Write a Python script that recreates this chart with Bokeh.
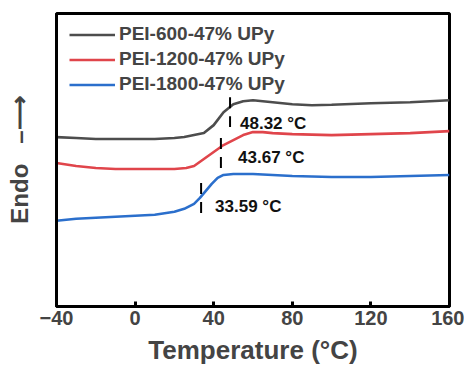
from bokeh.plotting import figure
from bokeh.models import Legend, LegendItem, ColumnDataSource
from bokeh.core.properties import value
from bokeh.embed import file_html
from bokeh.resources import INLINE

# Temperature (°C) sample points
t_600 = [-40, -30, -20, -10, 0, 10, 20, 25, 30, 35, 40, 45, 50, 55, 60, 65, 70, 80, 90, 100, 120, 140, 160]
hf_600 = [170, 169, 168, 168, 168, 168, 169, 170, 172, 174, 182, 195, 203, 206, 207, 206, 205, 203, 202, 202.5, 204, 205, 207]

t_1200 = [-40, -30, -20, -10, 0, 10, 20, 26, 30, 35, 40, 45, 50, 55, 60, 65, 70, 80, 100, 120, 140, 160]
hf_1200 = [144, 141, 139, 138, 138, 138, 138, 139, 141, 148, 155, 162, 167, 172, 175, 175, 174, 173, 172, 173, 174, 176]

t_1800 = [-40, -30, -20, -10, 0, 10, 20, 25, 30, 33, 36, 39, 42, 45, 50, 60, 80, 100, 120, 140, 160]
hf_1800 = [86, 88, 89, 90, 91, 92, 95, 98, 103, 109, 116, 123, 129, 132, 133, 133, 131, 130, 130, 131, 132]

names = ["PEI-600-47% UPy", "PEI-1200-47% UPy", "PEI-1800-47% UPy"]
colors = ["#4d4d4d", "#e0454b", "#2b6fcc"]

# Glass transition temperatures and marker extents
tg = [48.32, 43.67, 33.59]
tg_top = [210, 169, 124]
tg_bot = [180, 139, 92]
tg_text = ["48.32 °C", "43.67 °C", "33.59 °C"]
text_x = [53.4, 52.4, 40.7]
text_y = [184, 150, 100]

x_ticks = [-40, 0, 40, 80, 120, 160]

FONT = "Liberation Sans"

p = figure(width=464, height=367, x_range=(-40, 160), y_range=(0, 294),
           output_backend="svg", toolbar_location=None,
           min_border_left=56, min_border_right=15, min_border_top=13, min_border_bottom=60)
p.xgrid.visible = False
p.ygrid.visible = False
p.outline_line_color = "black"
p.outline_line_width = 3
p.background_fill_color = "white"
p.border_fill_color = "white"

r600 = p.line(t_600, hf_600, line_color=colors[0], line_width=2.6)
r1200 = p.line(t_1200, hf_1200, line_color=colors[1], line_width=2.6)
r1800 = p.line(t_1800, hf_1800, line_color=colors[2], line_width=2.6)

p.segment(x0=tg, y0=tg_top, x1=tg, y1=tg_bot, line_color="black", line_width=2, line_dash="11 8")

src = ColumnDataSource(dict(x=text_x, y=text_y, t=tg_text))
p.text(x="x", y="y", text="t", source=src, text_font=value(FONT), text_font_size="17px",
       text_font_style="bold", text_baseline="middle", text_align="left", text_color="#111111")

# axes
p.xaxis.ticker = x_ticks
p.xaxis.axis_label = "Temperature (°C)"
p.xaxis.axis_label_text_font = FONT
p.xaxis.axis_label_text_font_style = "bold"
p.xaxis.axis_label_text_font_size = "26px"
p.xaxis.axis_label_standoff = 7
p.xaxis.major_label_text_font = FONT
p.xaxis.major_label_text_font_style = "bold"
p.xaxis.major_label_text_font_size = "20px"
p.xaxis.major_label_standoff = 4
p.xaxis.major_tick_in = 5
p.xaxis.major_tick_out = 0
p.xaxis.major_tick_line_width = 3
p.xaxis.minor_tick_line_color = None
p.xaxis.axis_line_width = 3

p.yaxis.axis_label = "Endo\u00a0\u00a0\u00a0\u2013\u27f6"
p.yaxis.axis_label_text_font = FONT
p.yaxis.axis_label_text_font_style = "bold"
p.yaxis.axis_label_text_font_size = "24px"
p.yaxis.axis_label_standoff = 18
p.yaxis.major_label_text_font_size = "0px"
p.yaxis.major_tick_line_color = None
p.yaxis.minor_tick_line_color = None
p.yaxis.axis_line_width = 3

legend = Legend(items=[LegendItem(label=names[0], renderers=[r600]),
                       LegendItem(label=names[1], renderers=[r1200]),
                       LegendItem(label=names[2], renderers=[r1800])],
                location=(13, 211), margin=0, padding=0, spacing=3,
                glyph_width=46, glyph_height=21, label_height=21, label_standoff=4,
                label_text_font=FONT, label_text_font_style="bold", label_text_font_size="19px",
                border_line_color=None, background_fill_alpha=0)
p.add_layout(legend, "center")

open("out.html", "w").write(file_html(p, INLINE))
